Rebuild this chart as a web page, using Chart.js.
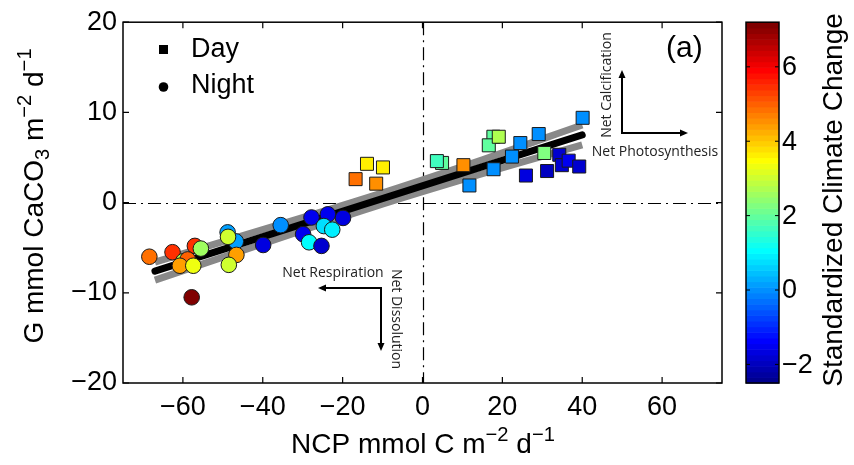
<!DOCTYPE html>
<html>
<head>
<meta charset="utf-8">
<script src="https://cdn.jsdelivr.net/npm/chart.js@4.4.0/dist/chart.umd.min.js"></script>
<style>
  html, body { margin: 0; padding: 0; background: #fff; }
  #wrap { position: relative; width: 854px; height: 465px; }
</style>
</head>
<body>
<div id="wrap"><canvas id="c" width="854" height="465"></canvas></div>
<script>
// day samples (squares): NCP, G, standardized climate change
const dayNCP  = [-13.9, -9.9, -16.75, -11.6, 4.9, 3.6, 10.25, 11.75, 17.8, 17.75, 16.6, 19.1, 22.4, 24.5, 29.1, 25.9, 30.5, 31.2, 34.25, 34.9, 36.6, 39.25, 40.1];
const dayG    = [4.3, 3.9, 2.6, 2.1, 4.4, 4.6, 4.15, 1.9, 3.7, 7.3, 6.35, 7.3, 5.1, 6.6, 7.6, 3.0, 5.5, 3.5, 5.3, 4.15, 4.65, 4.0, 9.4];
const dayClim = [3.6, 3.6, 4.9, 4.5, 2.0, 1.7, 4.5, 0.0, 0.0, 1.9, 2.0, 2.7, 0.0, 0.0, 0.0, -1.7, 2.3, -2.0, -1.8, -1.8, -1.5, -1.8, 0.0];

// night samples (circles)
const nightNCP  = [-68.4, -62.6, -57.0, -59.9, -58.8, -55.5, -60.75, -57.4, -48.8, -46.75, -48.7, -46.6, -48.5, -57.8, -39.9, -35.5, -27.8, -23.7, -19.9, -24.7, -22.6, -29.9, -28.4, -25.3];
const nightG    = [-6.0, -5.5, -4.8, -6.5, -6.3, -5.1, -7.0, -7.0, -3.3, -4.3, -3.8, -5.8, -6.9, -10.5, -4.7, -2.5, -1.65, -1.3, -1.7, -2.6, -3.0, -3.5, -4.4, -4.8];
const nightClim = [4.8, 5.4, 5.5, 2.8, 5.0, 2.6, 4.4, 3.3, 0.2, 0.2, 3.0, 4.4, 3.1, 7.1, -1.6, 0.0, -1.5, -1.5, -1.6, 0.7, 0.9, -1.5, 1.0, -1.8];

// regression line and confidence band
const fitX   = [-67, 40];
const fitY   = [-7.6, 7.5];
const bandX  = [-67, -40, -12, 15, 40];
const bandHi = [-6.6, -3.0, 0.8, 4.75, 8.6];
const bandLo = [-8.6, -4.56, -0.45, 3.2, 6.4];

const xTicks  = [-60, -40, -20, 0, 20, 40, 60];
const yTicks  = [-20, -10, 0, 10, 20];
const cbTicks = [-2, 0, 2, 4, 6];
const cbMin = -2.5, cbMax = 7.2;

const SANS = '"Liberation Sans", Arial, Helvetica, sans-serif';
const NOTE = '"Open Sans", "Noto Sans", sans-serif';

// matlab jet(64)
function jetRow(k) {
  const u = i => (i < 1 || i > 47) ? 0 : i <= 16 ? i / 16 : i <= 31 ? 1 : (48 - i) / 16;
  return [u(k - 24), u(k - 8), u(k + 8)];
}
function rgb(c) {
  return 'rgb(' + c.map(v => Math.round(v * 255)).join(',') + ')';
}
function jet(v) {
  let k = Math.floor((v - cbMin) / (cbMax - cbMin) * 64) + 1;
  k = Math.max(1, Math.min(64, k));
  return rgb(jetRow(k));
}

const fmt = v => v < 0 ? '\u2212' + Math.abs(v) : String(v);
const pts = (xs, ys) => xs.map((x, i) => ({ x: x, y: ys[i] }));

// text with sub/superscripts
function drawRich(ctx, parts, x, y, angle, size, align) {
  ctx.save();
  ctx.translate(x, y);
  ctx.rotate(angle);
  ctx.textBaseline = 'alphabetic';
  ctx.textAlign = 'left';
  let total = 0;
  const w = parts.map(p => {
    ctx.font = (p[1] ? size * 0.72 : size) + 'px ' + SANS;
    const m = ctx.measureText(p[0]).width;
    total += m;
    return m;
  });
  let cx = align === 'left' ? 0 : -total / 2;
  parts.forEach((p, i) => {
    ctx.font = (p[1] ? size * 0.72 : size) + 'px ' + SANS;
    const dy = p[1] === 'sup' ? -size * 0.42 : p[1] === 'sub' ? size * 0.22 : 0;
    ctx.fillText(p[0], cx, dy);
    cx += w[i];
  });
  ctx.restore();
}

function arrow(ctx, x0, y0, x1, y1) {
  const a = Math.atan2(y1 - y0, x1 - x0);
  const L = 8, W = 3.5;
  ctx.beginPath();
  ctx.moveTo(x0, y0);
  ctx.lineTo(x1 - L * 0.8 * Math.cos(a), y1 - L * 0.8 * Math.sin(a));
  ctx.stroke();
  ctx.beginPath();
  ctx.moveTo(x1, y1);
  ctx.lineTo(x1 - L * Math.cos(a) - W * Math.sin(a), y1 - L * Math.sin(a) + W * Math.cos(a));
  ctx.lineTo(x1 - L * Math.cos(a) + W * Math.sin(a), y1 - L * Math.sin(a) - W * Math.cos(a));
  ctx.closePath();
  ctx.fill();
}

const decor = {
  id: 'decor',
  beforeDatasetsDraw(chart) {
    const { ctx, chartArea: a, scales: { x, y } } = chart;
    ctx.save();
    ctx.strokeStyle = '#000';
    ctx.lineWidth = 1.2;
    ctx.setLineDash([13, 5, 2, 5]);
    const x0 = Math.round(x.getPixelForValue(0)) + 0.5;
    const y0 = Math.round(y.getPixelForValue(0)) + 0.5;
    ctx.beginPath();
    ctx.moveTo(x0, a.top); ctx.lineTo(x0, a.bottom);
    ctx.moveTo(a.left, y0); ctx.lineTo(a.right, y0);
    ctx.stroke();
    ctx.restore();
  },
  afterDraw(chart) {
    const { ctx, chartArea: a, scales: { x, y, yc } } = chart;
    ctx.save();
    // axes box and inward ticks
    ctx.strokeStyle = '#000';
    ctx.lineWidth = 1.5;
    ctx.strokeRect(a.left, a.top, a.right - a.left, a.bottom - a.top);
    ctx.lineWidth = 1.2;
    ctx.beginPath();
    xTicks.forEach(v => {
      const px = x.getPixelForValue(v);
      ctx.moveTo(px, a.bottom); ctx.lineTo(px, a.bottom - 6);
      ctx.moveTo(px, a.top); ctx.lineTo(px, a.top + 6);
    });
    yTicks.forEach(v => {
      const py = y.getPixelForValue(v);
      ctx.moveTo(a.left, py); ctx.lineTo(a.left + 6, py);
      ctx.moveTo(a.right, py); ctx.lineTo(a.right - 6, py);
    });
    ctx.stroke();

    // legend
    ctx.fillStyle = '#000';
    ctx.fillRect(159, 45, 9, 9);
    ctx.beginPath(); ctx.arc(163.5, 87, 4.8, 0, Math.PI * 2); ctx.fill();
    ctx.font = '27px ' + SANS;
    ctx.textBaseline = 'alphabetic';
    ctx.textAlign = 'left';
    ctx.fillText('Day', 191, 57);
    ctx.fillText('Night', 191, 93);
    ctx.font = '30px ' + SANS;
    ctx.fillText('(a)', 666, 57);

    // process annotations
    ctx.fillStyle = '#222';
    ctx.strokeStyle = '#000';
    ctx.lineWidth = 2;
    ctx.font = '14px ' + NOTE;
    ctx.textAlign = 'center';
    ctx.textBaseline = 'middle';
    ctx.fillText('Net Photosynthesis', 655, 152);
    ctx.fillText('Net Respiration', 333, 273);
    ctx.save(); ctx.translate(607, 85); ctx.rotate(-Math.PI / 2); ctx.fillText('Net Calcification', 0, 0); ctx.restore();
    ctx.save(); ctx.translate(396, 319); ctx.rotate(Math.PI / 2); ctx.fillText('Net Dissolution', 0, 0); ctx.restore();
    ctx.fillStyle = '#000';
    arrow(ctx, 622, 133, 622, 70);
    arrow(ctx, 621, 133, 688, 133);
    arrow(ctx, 381, 288, 318, 288);
    arrow(ctx, 381, 287, 381, 351);

    // colorbar, drawn on the colour scale
    const cl = 746, cr = 779;
    for (let k = 1; k <= 64; k++) {
      const v0 = cbMin + (k - 1) * (cbMax - cbMin) / 64;
      const v1 = cbMin + k * (cbMax - cbMin) / 64;
      const p0 = yc.getPixelForValue(v0), p1 = yc.getPixelForValue(v1);
      ctx.fillStyle = rgb(jetRow(k));
      ctx.fillRect(cl, p1, cr - cl, p0 - p1 + 0.6);
    }
    ctx.strokeStyle = '#000';
    ctx.lineWidth = 1.5;
    ctx.strokeRect(cl, yc.top, cr - cl, yc.bottom - yc.top);
    ctx.lineWidth = 1;
    ctx.fillStyle = '#000';
    ctx.font = '27px ' + SANS;
    ctx.textAlign = 'left';
    ctx.textBaseline = 'middle';
    ctx.beginPath();
    cbTicks.forEach(v => {
      const py = yc.getPixelForValue(v);
      ctx.moveTo(cl, py); ctx.lineTo(cl + 4, py);
      ctx.moveTo(cr, py); ctx.lineTo(cr - 4, py);
      ctx.fillText(fmt(v), 782, py + 1);
    });
    ctx.stroke();

    // axis titles
    ctx.fillStyle = '#000';
    drawRich(ctx, [['NCP mmol C m'], ['\u22122', 'sup'], [' d'], ['\u22121', 'sup']], 423, 453, 0, 28);
    drawRich(ctx, [['G mmol CaCO'], ['3', 'sub'], [' m'], ['\u22122', 'sup'], [' d'], ['\u22121', 'sup']], 43, 196, -Math.PI / 2, 28);
    drawRich(ctx, [['Standardized Climate Change']], 842, 200, -Math.PI / 2, 28);
    ctx.restore();
  }
};

new Chart(document.getElementById('c'), {
  type: 'scatter',
  data: {
    datasets: [
      { label: 'upper', type: 'line', showLine: true, data: pts(bandX, bandHi), borderColor: '#898989', borderWidth: 7, pointRadius: 0, tension: 0.4, order: 4 },
      { label: 'lower', type: 'line', showLine: true, data: pts(bandX, bandLo), borderColor: '#898989', borderWidth: 7, pointRadius: 0, tension: 0.4, order: 4 },
      { label: 'fit', type: 'line', showLine: true, data: pts(fitX, fitY), borderColor: '#000', borderWidth: 7, borderCapStyle: 'round', pointRadius: 0, order: 3 },
      { label: 'Day', data: pts(dayNCP, dayG), pointStyle: 'rect', pointRadius: 9.2, pointHoverRadius: 9.2,
        backgroundColor: dayClim.map(jet), borderColor: '#1a1a1a', borderWidth: 1, order: 1 },
      { label: 'Night', data: pts(nightNCP, nightG), pointStyle: 'circle', pointRadius: 7.8, pointHoverRadius: 7.8,
        backgroundColor: nightClim.map(jet), borderColor: '#1a1a1a', borderWidth: 1, order: 0 }
    ]
  },
  options: {
    responsive: false,
    animation: false,
    events: [],
    layout: { padding: { left: 0, top: 20, right: 132, bottom: 0 } },
    plugins: { legend: { display: false }, tooltip: { enabled: false } },
    scales: {
      x: {
        type: 'linear', min: -75, max: 75,
        afterBuildTicks: s => { s.ticks = xTicks.map(v => ({ value: v })); },
        afterFit: s => { s.height = 82; },
        grid: { display: false, drawTicks: false },
        border: { display: false },
        ticks: { color: '#000', font: { family: SANS, size: 27 }, padding: 8, maxRotation: 0, autoSkip: false, callback: v => fmt(v) }
      },
      y: {
        type: 'linear', min: -20, max: 20,
        afterBuildTicks: s => { s.ticks = yTicks.map(v => ({ value: v })); },
        afterFit: s => { s.width = 123; },
        grid: { display: false, drawTicks: false },
        border: { display: false },
        ticks: { color: '#000', font: { family: SANS, size: 27 }, padding: 6, autoSkip: false, callback: v => fmt(v) }
      },
      yc: { type: 'linear', axis: 'y', position: 'right', display: false, min: cbMin, max: cbMax }
    }
  },
  plugins: [decor]
});
</script>
</body>
</html>
